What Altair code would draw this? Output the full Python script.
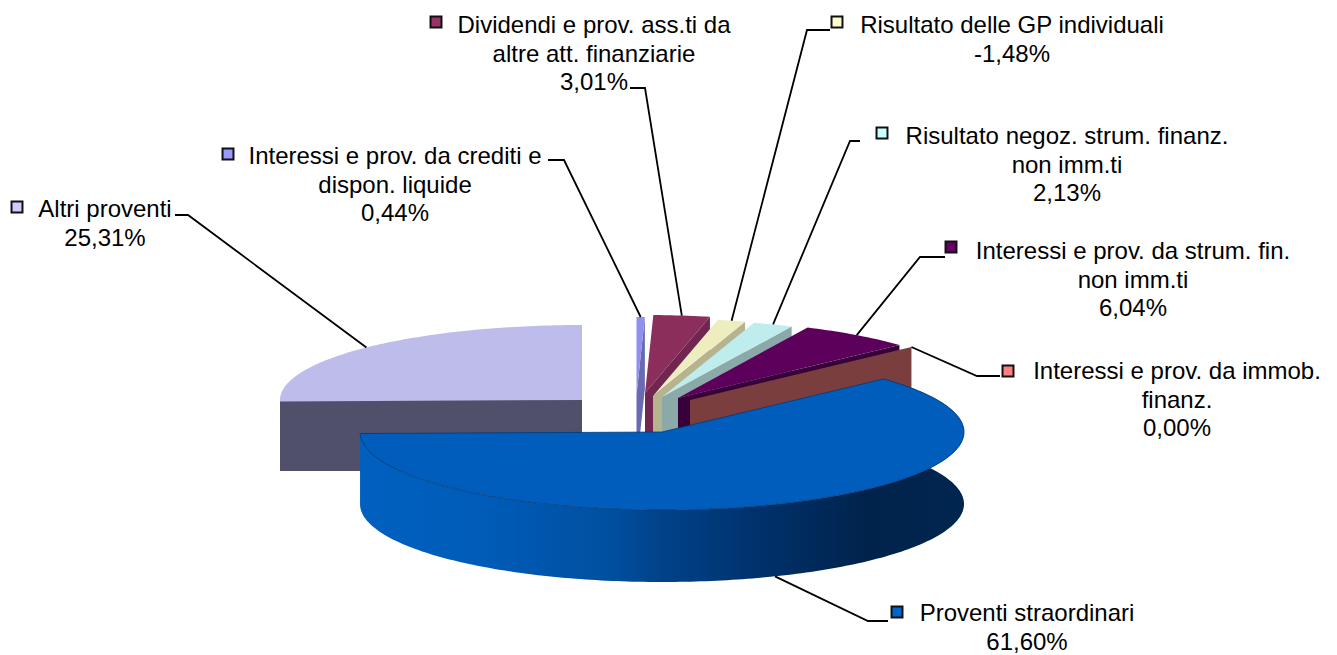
import math
import altair as alt

# ---- chart values
names = ["Interessi e prov. da crediti e dispon. liquide",
         "Dividendi e prov. ass.ti da altre att. finanziarie",
         "Risultato delle GP individuali",
         "Risultato negoz. strum. finanz. non imm.ti",
         "Interessi e prov. da strum. fin. non imm.ti",
         "Interessi e prov. da immob. finanz.",
         "Proventi straordinari",
         "Altri proventi"]
values = [0.44, 3.01, -1.48, 2.13, 6.04, 0.00, 61.60, 25.31]
label_lines = [["Interessi e prov. da crediti e", "dispon. liquide", "0,44%"],
               ["Dividendi e prov. ass.ti da", "altre att. finanziarie", "3,01%"],
               ["Risultato delle GP individuali", "-1,48%"],
               ["Risultato negoz. strum. finanz.", "non imm.ti", "2,13%"],
               ["Interessi e prov. da strum. fin.", "non imm.ti", "6,04%"],
               ["Interessi e prov. da immob.", "finanz.", "0,00%"],
               ["Proventi straordinari", "61,60%"],
               ["Altri proventi", "25,31%"]]

# ---- styles
top_colors = ["#9090F0", "#8B2E5C", "#EEEDBF", "#BFEDED", "#5C005C", "#7A3E3E", "#005DBB", "#BDBCEB"]
wall_colors = ["#6A6AB0", "#702650", "#B5B48F", "#8BA9A9", "#38003A", "#7A3E3E", None, "#50506A"]
key_colors = ["#9999FF", "#993366", "#FFFFCC", "#CCFFFF", "#660066", "#FF8080", "#0066CC", "#CCCCFF"]

# ---- layout (exploded pie geometry, in page pixels)
apex = [(636.5, 395), (645, 393), (653, 396), (662, 397), (678, 398), (690, 400), (662, 432), (582, 400)]
radius_y = [78, 78, 78, 78, 78, 78, 78, 75]
radius_x = 302
depths = [72, 72, 72, 72, 72, 72, 72, 71]
text_center = [395, 594, 1012, 1067, 1133, 1177, 1027, 105]
text_top = [157, 26, 26, 137, 252, 372, 614, 210]
line_step = 28.7
key_pos = [(228, 154), (436, 22), (837, 22), (882, 133), (951, 247), (1008, 371), (897, 612), (17, 207)]
leader_start = [(548, 160), (630, 88), (830, 30), (860, 141), (945, 257), (1000, 376), (888, 621), (175, 215)]
leader_elbow = [(564, 160), (645, 88), (807, 30), (850, 141), (920, 257), (977, 376), (868, 621), (188, 215)]

total = sum(abs(v) for v in values)
angles = [0.0]
for v in values:
    angles.append(angles[-1] + abs(v) / total * 360)


def rim(i, deg, dy=0.0):
    t = math.radians(deg)
    return [apex[i][0] + radius_x * math.sin(t), apex[i][1] - radius_y[i] * math.cos(t) + dy]


def arc_points(i, dy=0.0):
    a, b = angles[i], angles[i + 1]
    n = max(1, int((b - a) / 1.0))
    return [rim(i, a + (b - a) * k / n, dy) for k in range(n + 1)]


def polygon(points):
    ring = [list(p) for p in points] + [list(points[0])]
    return {"type": "Feature", "properties": {}, "geometry": {"type": "Polygon", "coordinates": [ring]}}


def polyline(points):
    return {"type": "Feature", "properties": {},
            "geometry": {"type": "LineString", "coordinates": [list(p) for p in points]}}


projection = dict(type="identity", scale=1, translate=[-8, -8])
layers = []


def shape(feature, **style):
    layers.append(alt.Chart(alt.Data(values=[feature])).mark_geoshape(**style).project(**projection))


blue_wall = alt.LinearGradient(gradient="linear", x1=0, y1=0, x2=1, y2=0, stops=[
    alt.GradientStop(color="#0060C0", offset=0),
    alt.GradientStop(color="#005CB8", offset=0.2),
    alt.GradientStop(color="#0050A0", offset=0.41),
    alt.GradientStop(color="#004187", offset=0.51),
    alt.GradientStop(color="#00326E", offset=0.65),
    alt.GradientStop(color="#00234B", offset=0.84),
    alt.GradientStop(color="#00264F", offset=1)])

draw_order = [7, 0, 1, 2, 3, 4, 5, 6]
for i in draw_order:
    ax, ay = apex[i]
    d = depths[i]
    if i == 6:
        pts = arc_points(i)
        shape(polygon(pts + [rim(i, angles[i + 1], d)] + arc_points(i, d)[::-1]),
              fill=blue_wall, stroke=None)
    elif i == 7:
        edge = rim(i, 270)
        shape(polygon([[edge[0], ay], [ax, ay], [ax, ay + d], [edge[0], ay + d]]),
              fill=wall_colors[i], stroke=None)
    else:
        end = rim(i, angles[i + 1])
        shape(polygon([[ax, ay], end, [end[0], end[1] + d], [ax, ay + d]]),
              fill=wall_colors[i], stroke=None)
    if abs(values[i]) > 0:
        shape(polygon([[ax, ay]] + arc_points(i)), fill=top_colors[i],
              stroke="#003A78" if i == 6 else None, strokeWidth=0.8)

# leader lines end on the rim, at the middle of each slice
for i in range(len(values)):
    mid = (angles[i] + angles[i + 1]) / 2
    dy = depths[i] if i == 6 else 0
    shape(polyline([leader_start[i], leader_elbow[i], rim(i, mid, dy)]),
          filled=False, stroke="black", strokeWidth=1.8, fill=None)

text_rows = []
for i, lines in enumerate(label_lines):
    for k, line in enumerate(lines):
        text_rows.append({"t": line, "x": text_center[i], "y": text_top[i] + k * line_step})
key_rows = [{"x": key_pos[i][0], "y": key_pos[i][1], "c": key_colors[i], "n": names[i]}
            for i in range(len(names))]

layers.append(alt.Chart(alt.Data(values=key_rows)).mark_point(
    shape="square", filled=True, stroke="#111111", strokeWidth=2, size=120, opacity=1
).encode(longitude="x:Q", latitude="y:Q", fill=alt.Fill("c:N", scale=None)).project(**projection))
layers.append(alt.Chart(alt.Data(values=text_rows)).mark_text(
    font="Liberation Sans", fontSize=24, color="#000000", align="center", baseline="middle"
).encode(longitude="x:Q", latitude="y:Q", text="t:N").project(**projection))

chart = alt.layer(*layers).properties(
    width=1321, height=647, padding=0, autosize=alt.AutoSizeParams(type="none"),
    background="white"
).configure_view(stroke=None)

chart.save("out.html", embed_options={"renderer": "svg", "actions": False})
